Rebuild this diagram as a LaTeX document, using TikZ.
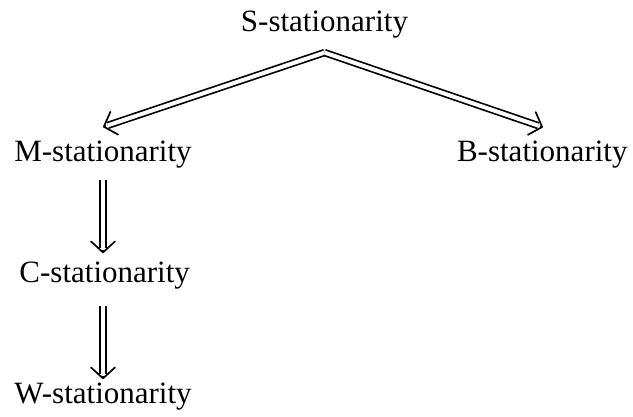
\documentclass[tikz,border=0pt]{standalone}
\usepackage{fontspec}
\setmainfont{Liberation Serif}
\usetikzlibrary{arrows.meta,calc}
\newcommand\implarrow[2]{%
  \draw[dl] (#1) -- ($(#2)!5pt!(#1)$);
  \draw[tipst] ($(#2)!3pt!(#1)$) -- (#2);}
\begin{document}
\begin{tikzpicture}[x=1pt,y=-1pt,
  lbl/.style={anchor=base,inner sep=0pt,font=\fontsize{31}{37}\selectfont},
  dl/.style={double,double distance=4pt,line width=1.7pt},
  tipst/.style={line width=1.7pt,-{Straight Barb[length=11pt,width=24pt,round]}}]
\useasboundingbox (0,0) rectangle (633,417);
\node[lbl] (S) at (324.5,31.7) {S-stationarity};
\node[lbl] (M) at (103,161.7) {M-stationarity};
\node[lbl] (B) at (542.3,162) {B-stationarity};
\node[lbl] (C) at (104.7,283) {C-stationarity};
\node[lbl] (W) at (103,403) {W-stationarity};
\coordinate (apex) at ([yshift=-14pt]S.south);
\coordinate (mtip) at ([yshift=14pt]M.north);
\coordinate (btip) at ([yshift=14pt]B.north -| 543,0);
\coordinate (ms) at ([yshift=-11pt]M.south);
\coordinate (ct) at ([yshift=9pt]C.north -| M.south);
\coordinate (cs) at ([yshift=-16pt]C.south -| M.south);
\coordinate (wt) at ([yshift=3pt]W.north -| M.south);
\implarrow{apex}{mtip}
\implarrow{apex}{btip}
\implarrow{ms}{ct}
\implarrow{cs}{wt}
\end{tikzpicture}
\end{document}
